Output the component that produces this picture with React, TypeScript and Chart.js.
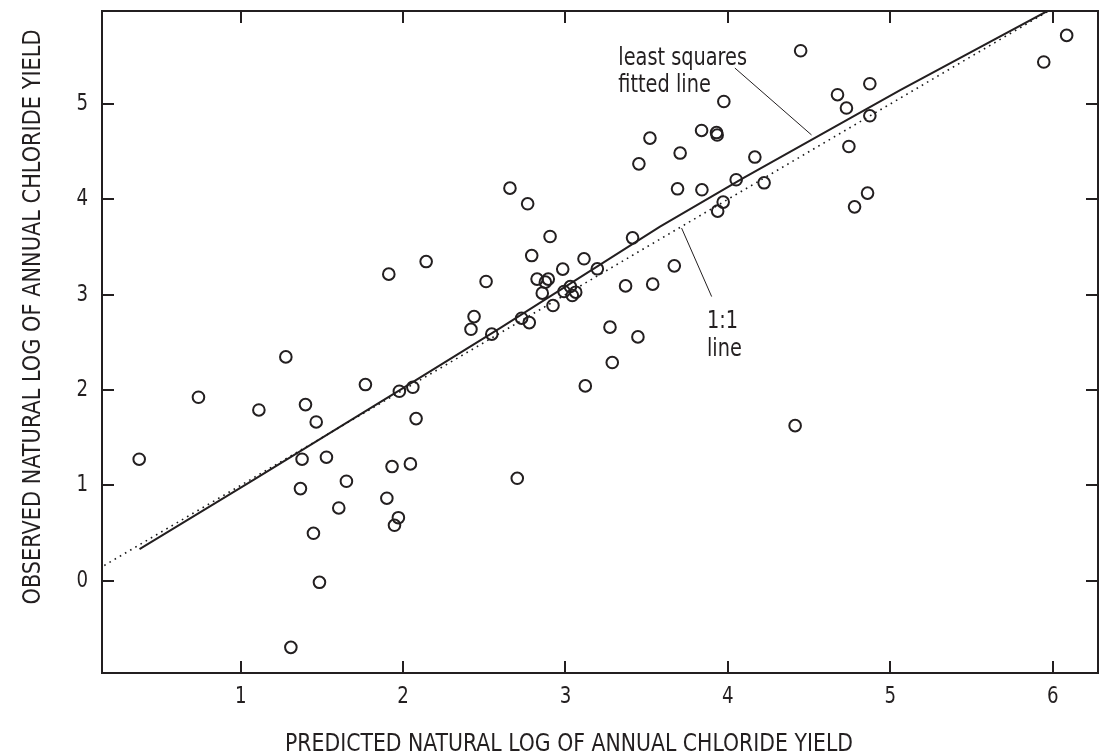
import React, { useEffect, useRef } from "react";
import { Chart, registerables } from "chart.js";

Chart.register(...registerables);

// Predicted (x) and observed (y) natural log of annual chloride yield
const PREDICTED = [
  4.448, 4.874, 4.675, 4.73, 4.874, 4.745, 3.975, 3.838, 3.93, 3.934,
  3.52, 3.452, 3.706, 4.166, 3.69, 3.84, 4.051, 4.223, 4.86, 4.78,
  3.971, 3.937, 2.905, 3.413, 2.658, 2.767, 6.086, 5.945, 2.142, 1.912,
  2.511, 2.437, 2.418, 2.546, 1.278, 0.74, 1.768, 1.977, 2.06, 1.112,
  1.399, 1.465, 2.08, 0.375, 1.378, 1.528, 1.932, 2.045, 1.368, 1.651,
  1.9, 1.604, 1.971, 1.947, 1.448, 1.485, 1.309, 2.792, 3.114, 2.983,
  3.196, 2.825, 2.894, 2.876, 3.67, 3.37, 3.537, 2.857, 2.991, 3.03,
  3.063, 3.042, 2.923, 2.73, 2.777, 3.274, 3.446, 3.288, 3.122, 4.414,
  2.703,
];
const OBSERVED = [
  5.558, 5.212, 5.097, 4.957, 4.876, 4.554, 5.026, 4.722, 4.7, 4.674,
  4.642, 4.372, 4.485, 4.443, 4.11, 4.1, 4.205, 4.173, 4.065, 3.921,
  3.971, 3.876, 3.61, 3.596, 4.117, 3.953, 5.719, 5.44, 3.347, 3.215,
  3.138, 2.77, 2.637, 2.586, 2.347, 1.924, 2.057, 1.987, 2.029, 1.791,
  1.847, 1.665, 1.7, 1.274, 1.274, 1.295, 1.197, 1.225, 0.966, 1.043,
  0.865, 0.763, 0.661, 0.581, 0.497, -0.017, -0.699, 3.41, 3.376, 3.268,
  3.271, 3.163, 3.163, 3.131, 3.302, 3.092, 3.11, 3.016, 3.033, 3.085,
  3.026, 2.991, 2.886, 2.753, 2.707, 2.659, 2.557, 2.288, 2.043, 1.626,
  1.074,
];

// Least squares fitted line (as traced)
const FIT_X = [0.377, 1.079, 1.982, 2.597, 3.582, 4.094, 5.061, 5.961];
const FIT_Y = [0.332, 1.057, 2.002, 2.648, 3.714, 4.222, 5.146, 5.969];

// 1:1 line
const ONE_X = [0.16, 5.975];
const ONE_Y = [0.16, 5.975];

// Leader lines for annotations
const FIT_LEADER_X = [4.043, 4.515];
const FIT_LEADER_Y = [5.377, 4.675];
const ONE_LEADER_X = [3.715, 3.9];
const ONE_LEADER_Y = [3.698, 2.98];

const X_TICKS = [1, 2, 3, 4, 5, 6];
const Y_TICKS = [0, 1, 2, 3, 4, 5];
const X_TICK_LABELS = ["1", "2", "3", "4", "5", "6"];
const Y_TICK_LABELS = ["0", "1", "2", "3", "4", "5"];

const X_TITLE = "PREDICTED NATURAL LOG OF ANNUAL CHLORIDE YIELD";
const Y_TITLE = "OBSERVED NATURAL LOG OF ANNUAL CHLORIDE YIELD";
const FIT_LABEL = ["least squares", "fitted line"];
const ONE_LABEL = ["1:1", "line"];

const X_MIN = 0.146;
const X_MAX = 6.279;
const Y_MIN = -0.968;
const Y_MAX = 5.975;

const FONT = '"DejaVu Sans Condensed", "Liberation Sans Narrow", "Liberation Sans", sans-serif';
const INK = "#231f20";

const zip = (xs: number[], ys: number[]) => xs.map((x, i) => ({ x, y: ys[i] }));

function squeezeText(ctx: CanvasRenderingContext2D, text: string, x: number, y: number, sx: number) {
  ctx.save();
  ctx.translate(x, y);
  ctx.scale(sx, 1);
  ctx.fillText(text, 0, 0);
  ctx.restore();
}

export default function App() {
  const ref = useRef<HTMLCanvasElement>(null);

  useEffect(() => {
    const canvas = ref.current;
    if (!canvas) return;

    const deco = {
      id: "deco",
      afterDatasetsDraw(chart: any) {
        const { ctx, chartArea: a, scales } = chart;
        const xs = scales.x;
        const ys = scales.y;
        ctx.save();
        ctx.strokeStyle = INK;
        ctx.lineWidth = 2;
        ctx.strokeRect(a.left, a.top, a.right - a.left, a.bottom - a.top);
        const TL = 12;
        ctx.beginPath();
        X_TICKS.forEach((v) => {
          const p = Math.round(xs.getPixelForValue(v));
          ctx.moveTo(p, a.bottom);
          ctx.lineTo(p, a.bottom - TL);
          ctx.moveTo(p, a.top);
          ctx.lineTo(p, a.top + TL);
        });
        Y_TICKS.forEach((v) => {
          const p = Math.round(ys.getPixelForValue(v));
          ctx.moveTo(a.left, p);
          ctx.lineTo(a.left + TL, p);
          ctx.moveTo(a.right, p);
          ctx.lineTo(a.right - TL, p);
        });
        ctx.stroke();

        ctx.fillStyle = INK;
        // tick labels
        ctx.font = `23px ${FONT}`;
        ctx.textBaseline = "middle";
        ctx.textAlign = "center";
        X_TICKS.forEach((v, i) => {
          squeezeText(ctx, X_TICK_LABELS[i], xs.getPixelForValue(v), a.bottom + 24, 0.88);
        });
        ctx.textAlign = "right";
        Y_TICKS.forEach((v, i) => {
          squeezeText(ctx, Y_TICK_LABELS[i], a.left - 14, ys.getPixelForValue(v), 0.88);
        });

        // annotations
        ctx.textAlign = "left";
        ctx.textBaseline = "alphabetic";
        ctx.font = `24px ${FONT}`;
        const SQ = 0.895;
        const fx = xs.getPixelForValue(3.325);
        const fy = ys.getPixelForValue(5.411);
        FIT_LABEL.forEach((t, i) => squeezeText(ctx, t, fx, fy + i * 27, SQ));
        const ox = xs.getPixelForValue(3.871);
        const oy = ys.getPixelForValue(2.652);
        ONE_LABEL.forEach((t, i) => squeezeText(ctx, t, ox, oy + i * 28.5, SQ));

        // axis titles
        ctx.font = `25px ${FONT}`;
        ctx.textAlign = "center";
        ctx.textBaseline = "middle";
        const wx = ctx.measureText(X_TITLE).width;
        squeezeText(ctx, X_TITLE, 569, 744, 568 / wx);
        const wy = ctx.measureText(Y_TITLE).width;
        ctx.save();
        ctx.translate(33, 317);
        ctx.rotate(-Math.PI / 2);
        squeezeText(ctx, Y_TITLE, 0, 0, 575 / wy);
        ctx.restore();
        ctx.restore();
      },
    };

    const chart = new Chart(canvas, {
      type: "scatter",
      data: {
        datasets: [
          {
            data: zip(ONE_X, ONE_Y),
            showLine: true,
            pointRadius: 0,
            borderColor: "#1a1a1a",
            borderWidth: 1.6,
            borderDash: [1.6, 4.4],
          },
          {
            data: zip(FIT_X, FIT_Y),
            showLine: true,
            pointRadius: 0,
            borderColor: INK,
            borderWidth: 2,
          },
          {
            data: zip(FIT_LEADER_X, FIT_LEADER_Y),
            showLine: true,
            pointRadius: 0,
            borderColor: INK,
            borderWidth: 1,
          },
          {
            data: zip(ONE_LEADER_X, ONE_LEADER_Y),
            showLine: true,
            pointRadius: 0,
            borderColor: INK,
            borderWidth: 1,
          },
          {
            data: zip(PREDICTED, OBSERVED),
            pointRadius: 5.8,
            pointStyle: "circle",
            pointBorderWidth: 2,
            pointBorderColor: INK,
            pointBackgroundColor: "rgba(0,0,0,0)",
            borderColor: INK,
            backgroundColor: "rgba(0,0,0,0)",
          },
        ],
      },
      options: {
        animation: false,
        responsive: false,
        layout: { autoPadding: false, padding: { top: 11, right: 1, left: 0, bottom: 0 } },
        plugins: { legend: { display: false }, tooltip: { enabled: false } },
        scales: {
          x: {
            type: "linear",
            min: X_MIN,
            max: X_MAX,
            afterFit: (s: any) => {
              s.height = 83;
              s.paddingLeft = 0;
              s.paddingRight = 0;
              s.paddingTop = 0;
              s.paddingBottom = 0;
            },
            afterBuildTicks: (s: any) => {
              s.ticks = X_TICKS.map((v) => ({ value: v }));
            },
            grid: { display: false, drawTicks: false },
            border: { display: false },
            ticks: { display: false },
          },
          y: {
            type: "linear",
            min: Y_MIN,
            max: Y_MAX,
            afterFit: (s: any) => {
              s.width = 102;
              s.paddingLeft = 0;
              s.paddingRight = 0;
              s.paddingTop = 0;
              s.paddingBottom = 0;
            },
            afterBuildTicks: (s: any) => {
              s.ticks = Y_TICKS.map((v) => ({ value: v }));
            },
            grid: { display: false, drawTicks: false },
            border: { display: false },
            ticks: { display: false },
          },
        },
      },
      plugins: [deco],
    } as any);

    return () => chart.destroy();
  }, []);

  return (
    <div style={{ position: "fixed", left: 0, top: 0, width: 1099, height: 756, background: "#fff" }}>
      <canvas ref={ref} width={1099} height={756} style={{ display: "block" }} />
    </div>
  );
}
